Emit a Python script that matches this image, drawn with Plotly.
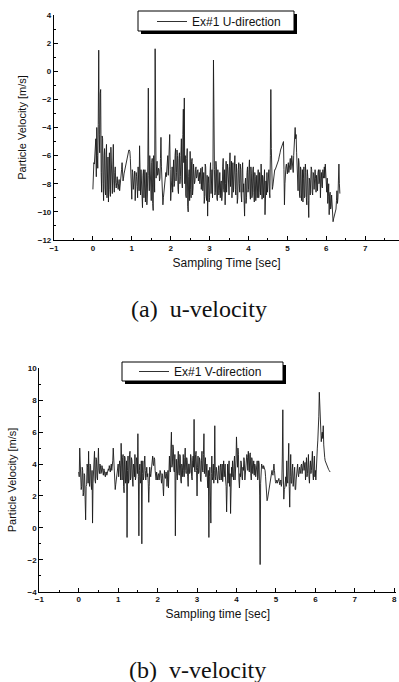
import plotly.graph_objects as go

# ---------------- data ----------------
DT = 0.0125  # sampling interval [sec]

u_velocity = [
    -8.4, -7.0, -6.5, -6.6, -6.2, -5.2, -4.8, -7.5, -4.0, -6.0, -6.9, -3.8, 1.5, -4.5, -5.8, -1.6, -1.3, -7.2, -8.6, -4.6,
    -4.8, -8.0, -9.2, -6.0, -5.5, -8.3, -8.8, -5.9, -5.2, -9.0, -7.6, -6.1, -9.3, -7.0, -5.8, -8.4, -8.9, -5.4, -6.2, -8.2,
    -8.7, -6.6, -5.2, -7.8, -8.6, -7.2, -6.8, -8.0, -8.3, -7.9, -7.5, -8.1, -8.4, -8.0, -7.7, -8.5, -8.2, -7.8, -7.4, -7.0,
    -6.5, -7.2, -7.8, -7.6, -7.3, -7.1, -7.0, -6.8, -6.6, -6.4, -6.2, -6.0, -5.8, -5.7, -5.6, -5.6, -5.7, -6.2, -7.0, -8.0,
    -9.1, -7.0, -7.2, -8.4, -8.0, -7.3, -7.1, -9.2, -8.6, -7.2, -7.5, -8.2, -9.0, -6.8, -7.4, -8.5, -5.3, -7.8, -8.8, -7.0,
    -7.6, -8.9, -9.7, -7.4, -7.0, -9.0, -8.2, -7.0, -9.3, -8.0, -7.2, -9.5, -8.8, -6.6, -1.2, -7.4, -8.5, -6.0, -6.8, -8.8,
    -9.2, -6.5, -6.2, -9.4, -9.9, -6.0, -6.8, -8.6, 1.6, -6.6, -7.6, -6.8, -6.4, -7.4, -7.3, -6.9, -7.0, -7.8, -7.6, -6.2,
    -4.7, -6.8, -8.2, -9.4, -9.5, -9.0, -8.6, -8.0, -7.8, -7.6, -7.2, -7.5, -6.8, -7.0, -6.0, -7.4, -5.5, -6.2, -4.5, -7.0,
    -9.2, -8.5, -7.8, -6.8, -8.6, -7.0, -6.3, -8.2, -8.0, -6.0, -5.5, -7.8, -7.2, -5.6, -6.0, -8.4, -8.7, -6.2, -5.8, -8.0,
    -7.5, -6.0, -4.8, -7.8, -8.3, -4.5, -2.7, -6.5, -1.9, -8.0, -6.0, -8.8, -9.0, -6.2, -5.5, -9.6, -10.0, -7.5, -7.0, -9.2,
    -5.7, -8.4, -9.0, -6.4, -6.2, -8.8, -8.3, -6.6, -7.2, -8.0, -7.8, -7.0, -6.8, -7.6, -7.5, -7.1, -7.0, -7.8, -7.4, -7.2,
    -8.0, -7.3, -6.9, -8.4, -7.6, -6.8, -8.5, -7.4, -7.2, -9.4, -8.9, -6.6, -6.8, -8.8, -9.2, -7.4, -10.3, -8.0, -7.5, -9.3,
    -9.0, -7.2, -6.5, -8.7, -8.2, -7.0, -9.0, -6.8, 0.8, -6.2, -7.0, -8.8, -8.6, -6.4, -6.8, -9.0, -9.2, -7.0, -7.8, -8.8,
    -8.5, -7.2, -9.0, -8.0, -7.8, -9.2, -8.8, -6.8, -6.2, -8.4, -8.6, -7.0, -9.5, -8.0, -6.4, -8.6, -8.0, -6.6, -7.0, -8.8,
    -8.8, -6.8, -5.8, -8.2, -7.5, -6.4, -9.0, -7.2, -6.5, -8.6, -7.6, -6.2, -6.0, -8.4, -8.8, -6.6, -7.2, -9.4, -9.0, -7.0,
    -6.5, -8.0, -8.6, -6.6, -7.0, -8.8, -9.3, -7.0, -6.5, -8.6, -8.0, -9.2, -10.3, -8.0, -7.6, -9.4, -9.0, -7.2, -6.8, -8.6,
    -8.4, -7.0, -6.3, -8.6, -9.1, -6.8, -7.3, -9.0, -8.8, -7.0, -6.8, -8.6, -9.3, -7.2, -7.5, -9.2, -8.2, -7.4, -9.0, -7.6,
    -7.0, -9.0, -8.6, -7.2, -8.0, -8.8, -6.6, -8.4, -9.1, -7.4, -7.6, -9.0, -8.4, -7.0, -10.2, -8.2, -7.8, -8.8, -7.2, -8.6,
    -8.0, -7.4, -7.0, -8.6, -9.0, -6.0, -1.3, -5.5, -7.8, -8.4, -8.2, -7.8, -7.5, -7.3, -7.0, -7.0, -6.9, -6.8, -6.7, -6.6,
    -6.6, -6.4, -6.3, -6.1, -6.0, -5.8, -5.6, -5.5, -5.3, -5.2, -5.1, -5.0, -5.0, -7.0, -9.5, -8.0, -7.0, -6.8, -6.6, -7.0,
    -7.3, -6.8, -6.5, -7.2, -7.0, -6.6, -6.2, -7.0, -6.8, -6.0, -6.4, -6.9, -7.2, -6.0, -5.2, -4.6, -4.0, -4.8, -4.5, -5.8,
    -6.8, -7.8, -8.5, -6.2, -6.5, -8.8, -9.0, -6.8, -7.0, -9.2, -8.6, -7.0, -9.3, -7.6, -6.8, -9.0, -8.9, -6.6, -7.2, -9.0,
    -9.5, -7.0, -7.5, -9.2, -10.4, -7.6, -7.8, -8.8, -8.2, -6.8, -7.0, -8.6, -8.8, -7.2, -7.3, -8.4, -8.0, -7.0, -7.6, -8.6,
    -7.4, -8.2, -8.5, -7.2, -7.0, -8.0, -7.8, -7.0, -9.0, -7.6, -7.2, -8.2, -8.3, -7.0, -7.6, -7.4, -6.8, -7.6, -6.6, -7.4,
    -8.0, -8.6, -7.6, -9.4, -8.9, -8.0, -10.2, -8.8, -8.6, -9.8, -9.6, -8.8, -10.0, -10.4, -10.7, -10.5, -10.3, -10.2, -10.0, -9.9,
    -9.8, -9.2, -8.5, -9.4, -9.0, -7.8, -6.6, -8.0, -8.7,
]

v_velocity = [
    3.5, 3.2, 5.0, 3.4, 3.0, 2.4, 2.6, 3.8, 3.6, 2.0, 2.2, 3.4, 3.3, 1.8, 0.5, 2.6, 2.7, 4.0, 3.8, 2.8,
    4.8, 3.0, 2.6, 4.0, 3.9, 2.8, 2.4, 3.6, 0.3, 2.8, 3.5, 4.2, 4.8, 3.0, 2.8, 4.4, 4.3, 3.2, 3.0, 4.0,
    5.0, 3.6, 3.4, 4.0, 3.9, 3.4, 3.5, 3.9, 3.8, 3.5, 3.3, 3.7, 3.6, 3.3, 3.2, 3.5, 3.5, 3.3, 3.4, 3.6,
    3.7, 3.6, 3.9, 3.7, 3.5, 3.8, 4.0, 3.6, 3.8, 4.2, 5.0, 4.0, 3.2, 2.8, 2.4, 2.7, 3.0, 3.4, 3.7, 3.6,
    4.0, 3.2, 3.5, 4.2, 3.9, 3.0, 5.3, 3.4, 3.0, 4.4, 4.6, 2.6, 2.2, 4.5, 4.4, 2.8, 3.0, 4.2, -0.6, 3.6,
    4.5, 2.8, 3.0, 4.6, 4.8, 3.0, 3.2, 4.4, 4.2, 3.0, 2.6, 4.0, 3.8, 3.2, 4.6, 3.0, 3.2, 4.4, 4.2, 3.4,
    5.9, 3.2, -0.5, 3.6, 4.0, 2.8, 3.0, 4.2, -1.0, 3.4, 4.2, 3.0, 3.2, 4.0, 4.5, 3.6, 3.0, 3.4, 3.8, 3.2,
    3.4, 2.8, 1.6, 2.6, 3.8, 3.4, 3.2, 3.6, 4.0, 4.3, 4.5, 4.0, 3.9, 4.4, 4.3, 3.6, 3.2, 3.0, 3.5, 3.2,
    3.0, 3.3, 3.4, 3.0, 3.2, 3.6, 3.5, 3.1, 2.8, 3.4, 3.3, 2.6, 2.0, 3.0, 3.6, 3.2, 3.1, 3.5, 3.4, 2.6,
    3.0, 3.6, 2.5, 3.8, 4.5, 3.6, 3.5, 5.0, 6.0, 3.8, 4.0, 5.2, 5.0, 3.6, 3.5, 4.6, -0.5, 3.0, 4.3, 3.4,
    3.0, 4.2, 4.8, 3.4, 3.3, 4.6, 4.5, 3.0, 2.8, 4.0, 3.8, 3.2, 4.6, 3.6, 3.2, 4.4, 5.0, 3.6, 3.4, 4.4,
    4.2, 3.2, 2.6, 4.0, 4.0, 3.4, 3.5, 4.6, 4.4, 3.2, 3.0, 4.2, 4.5, 3.8, 6.8, 3.6, 3.5, 4.6, 4.8, 3.6,
    2.0, 3.8, 4.5, 3.4, 3.5, 4.4, 4.2, 3.0, 2.9, 4.2, 4.8, 3.6, 3.5, 4.6, 5.9, 3.4, 3.8, 4.4, 3.2, 3.8,
    4.0, 3.0, 2.5, 3.6, -0.6, 3.2, 3.8, 2.0, 0.3, 3.4, 4.5, 3.0, 3.2, 4.0, 2.8, 3.6, 6.4, 3.2, 3.0, 3.8,
    3.5, 3.0, 2.8, 3.6, 3.9, 3.1, 3.0, 3.8, 4.0, 3.0, 3.3, 4.0, 2.9, 3.6, 4.2, 3.2, 3.6, 4.0, 3.0, 2.6,
    1.0, 3.0, 4.0, 2.8, 3.5, 4.2, 2.6, 3.4, 0.9, 3.0, 3.8, 3.2, 4.2, 3.4, 3.0, 4.0, 4.5, 3.0, 3.5, 4.2,
    5.7, 4.4, 3.8, 5.0, 4.6, 3.0, 2.5, 3.4, 3.2, 4.2, 4.0, 3.2, 3.0, 3.8, 3.6, 4.4, 4.2, 3.0, 3.4, 4.0,
    3.8, 4.6, 4.4, 3.6, 4.8, 4.2, 3.5, 4.6, 4.7, 3.4, 3.0, 4.4, 4.2, 3.4, 3.8, 4.2, 3.3, 4.0, 3.9, 3.2,
    3.5, 4.0, 4.2, 3.0, 3.2, 4.2, 4.0, 2.0, -2.3, 2.8, 3.8, 4.0, 3.9, 3.8, 3.7, 3.9, 3.8, 3.7, 3.6, 3.2,
    2.6, 2.0, 1.7, 1.8, 2.0, 2.2, 2.4, 2.6, 2.8, 3.0, 3.2, 3.4, 3.6, 3.4, 3.3, 3.7, 4.0, 3.6, 3.0, 2.9,
    2.8, 2.9, 3.0, 2.8, 2.9, 3.0, 3.1, 2.9, 2.7, 2.9, 3.0, 2.6, 2.8, 4.5, 7.4, 3.5, 1.8, 2.4, 2.5, 3.0,
    3.2, 2.6, 4.2, 3.0, 2.8, 4.0, 5.3, 2.6, 1.3, 3.2, 4.6, 2.8, 2.8, 3.6, 4.0, 2.6, 3.2, 3.6, 3.8, 2.4,
    2.4, 3.0, 3.6, 3.8, 4.0, 3.4, 3.2, 3.6, 3.8, 3.4, 3.5, 3.9, 4.0, 3.4, 3.6, 4.0, 4.2, 3.6, 3.8, 4.1,
    3.0, 3.8, 4.4, 3.2, 3.4, 4.0, 4.6, 3.2, 2.8, 3.8, 4.2, 3.4, 3.6, 4.2, 4.8, 3.4, 3.0, 4.0, 4.5, 3.2,
    3.6, 3.0, 4.2, 4.6, 5.0, 5.5, 6.0, 7.0, 8.5, 7.6, 6.5, 6.0, 5.4, 5.8, 6.0, 5.6, 6.4, 5.2, 4.5, 4.4,
    4.2, 4.1, 4.0, 3.95, 3.9, 3.8, 3.7, 3.65, 3.6, 3.55, 3.5,
]

u_time = [round(i * DT, 4) for i in range(len(u_velocity))]
v_time = [round(i * DT, 4) for i in range(len(v_velocity))]

U_NAME = "Ex#1 U-direction"
V_NAME = "Ex#1 V-direction"
Y_TITLE = "Particle Velocity [m/s]"
X_TITLE_A = "Sampling Time [sec]"
X_TITLE_B = "Sampling time [sec]"
CAPTION_A = "(a)\u00a0\u00a0u-velocity"
CAPTION_B = "(b)\u00a0\u00a0v-velocity"

# ---------------- layout helpers (pixel -> paper) ----------------
W, H = 399, 682
def px(x):
    return x / W
def py(y):
    return 1 - y / H

LINE = "#1a1a1a"
TICKFONT = dict(family="Arial, Liberation Sans", size=8, color="#111")

fig = go.Figure()
fig.add_trace(go.Scatter(x=u_time, y=u_velocity, mode="lines", name=U_NAME,
                         line=dict(color=LINE, width=0.9), xaxis="x", yaxis="y",
                         legend="legend"))
fig.add_trace(go.Scatter(x=v_time, y=v_velocity, mode="lines", name=V_NAME,
                         line=dict(color=LINE, width=0.9), xaxis="x2", yaxis="y2",
                         legend="legend2"))

def xax(domain, rng, title):
    return dict(domain=domain, range=rng, showline=True, linecolor="black",
                linewidth=1.2, ticks="inside", ticklen=4, tickwidth=1, tickcolor="black",
                dtick=1, tick0=0, showgrid=False, zeroline=False, automargin=False,
                tickfont=dict(TICKFONT, weight="bold"),
                minor=dict(ticks="inside", ticklen=2, dtick=0.5, tickcolor="black", showgrid=False),
                title=dict(text=title, font=dict(family="Arial, Liberation Sans", size=12, color="#111"),
                           standoff=6))

def yax(domain, rng, title):
    return dict(domain=domain, range=rng, showline=True, linecolor="black",
                linewidth=1.2, ticks="inside", ticklen=4, tickwidth=1, tickcolor="black",
                dtick=2, showgrid=False, zeroline=False, automargin=False,
                tickfont=dict(TICKFONT, weight="bold"),
                minor=dict(ticks="inside", ticklen=2, dtick=1, tickcolor="black", showgrid=False),
                title=dict(text=title, font=dict(family="Arial, Liberation Sans", size=11, color="#111"),
                           standoff=8))

xa = xax([px(54), 1.0], [-1, 7.87], X_TITLE_A); xa["anchor"] = "y"
ya = yax([py(240), py(15)], [-12, 4], Y_TITLE); ya["anchor"] = "x"
xb = xax([px(39.3), px(396.2)], [-1, 8.05], X_TITLE_B); xb["anchor"] = "y2"
yb = yax([py(591.7), py(368.3)], [-4, 10], Y_TITLE); yb["anchor"] = "x2"

def legend_box(x0, y0, x1, y1):
    return [
        dict(type="rect", xref="paper", yref="paper", x0=px(x0 + 3), x1=px(x1 + 3),
             y0=py(y1 + 3), y1=py(y0 + 3), fillcolor="black", line=dict(width=0)),
        dict(type="rect", xref="paper", yref="paper", x0=px(x0), x1=px(x1),
             y0=py(y1), y1=py(y0), fillcolor="white", line=dict(color="black", width=1)),
    ]

LEGFONT = dict(family="Arial, Liberation Sans", size=12, color="#111")

fig.update_layout(
    width=W, height=H, margin=dict(l=0, r=0, t=0, b=0),
    paper_bgcolor="white", plot_bgcolor="white",
    showlegend=True,
    xaxis=xa, yaxis=ya, xaxis2=xb, yaxis2=yb,
    legend=dict(x=px(152), y=py(7), xanchor="left", yanchor="top",
                bgcolor="rgba(0,0,0,0)", borderwidth=0, font=LEGFONT,
                itemwidth=30, tracegroupgap=0),
    legend2=dict(x=px(134), y=py(357), xanchor="left", yanchor="top",
                 bgcolor="rgba(0,0,0,0)", borderwidth=0, font=LEGFONT,
                 itemwidth=30, tracegroupgap=0),
    shapes=legend_box(138, 11, 294, 31) + legend_box(122, 362, 283, 381),
    annotations=[
        dict(text=CAPTION_A, x=px(199), y=py(309), xref="paper", yref="paper",
             showarrow=False, xanchor="center", yanchor="middle",
             font=dict(family="Liberation Serif, Times New Roman, serif", size=24, color="#111")),
        dict(text=CAPTION_B, x=px(197), y=py(670), xref="paper", yref="paper",
             showarrow=False, xanchor="center", yanchor="middle",
             font=dict(family="Liberation Serif, Times New Roman, serif", size=24, color="#111")),
    ],
)

fig.write_html("out.html", config={"displayModeBar": False},
               post_script="document.body.style.margin='0';document.body.style.padding='0';")
